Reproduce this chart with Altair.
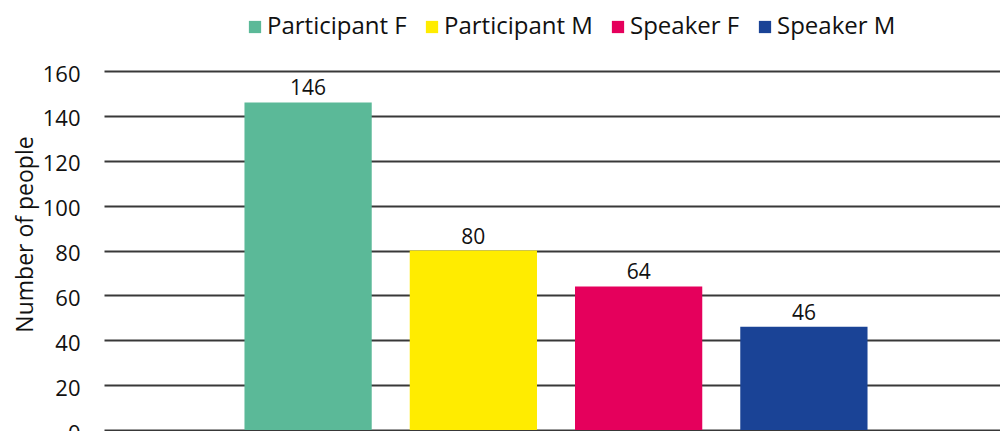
import altair as alt
import pandas as pd

categories = ["Participant F", "Participant M", "Speaker F", "Speaker M"]
values = [146, 80, 64, 46]
colors = ["#5BB998", "#FFEC00", "#E5005C", "#1A4396"]
y_ticks = [0, 20, 40, 60, 80, 100, 120, 140, 160]

df = pd.DataFrame({"group": categories, "people": values})

FONT = "Open Sans"

x_enc = alt.X("group:N", sort=categories, axis=None,
              scale=alt.Scale(range=[0, 904], paddingInner=0.23, paddingOuter=0.85))

bars = alt.Chart(df).mark_bar().encode(
    x=x_enc,
    y=alt.Y("people:Q",
            scale=alt.Scale(domain=[0, 160], nice=False, zero=True),
            axis=alt.Axis(values=y_ticks, title="Number of people",
                          grid=True, gridColor="#383838", gridWidth=2.2,
                          domain=False, ticks=False,
                          labelFont=FONT, labelFontSize=22, labelColor="#111111",
                          labelPadding=24, labelOffset=3,
                          titleFont=FONT, titleFontSize=23, titleFontWeight="normal",
                          titleColor="#111111", titleX=-72, titleY=163,
                          titleAlign="center", titleBaseline="alphabetic",
                          titleAngle=270)),
    color=alt.Color("group:N", sort=categories,
                    scale=alt.Scale(domain=categories, range=colors),
                    legend=alt.Legend(title=None, orient="none", direction="horizontal",
                                      legendX=139, legendY=-56, padding=0,
                                      symbolType="square", symbolSize=150,
                                      symbolStrokeWidth=0, symbolOpacity=1,
                                      labelFont=FONT, labelFontSize=24,
                                      labelColor="#111111", labelOffset=0,
                                      columnPadding=13)),
)

labels = alt.Chart(df).mark_text(baseline="alphabetic", dy=-7, font=FONT,
                                 fontSize=21, color="#111111").encode(
    x=x_enc,
    y=alt.Y("people:Q"),
    text=alt.Text("people:Q"),
)

chart = (bars + labels).properties(
    width=896, height=359,
    autosize=alt.AutoSizeParams(type="none"),
    padding={"left": 96, "top": 63, "right": 0, "bottom": 1},
).configure_view(stroke=None)

chart.save("out.html", embed_options={"renderer": "svg", "actions": False})
